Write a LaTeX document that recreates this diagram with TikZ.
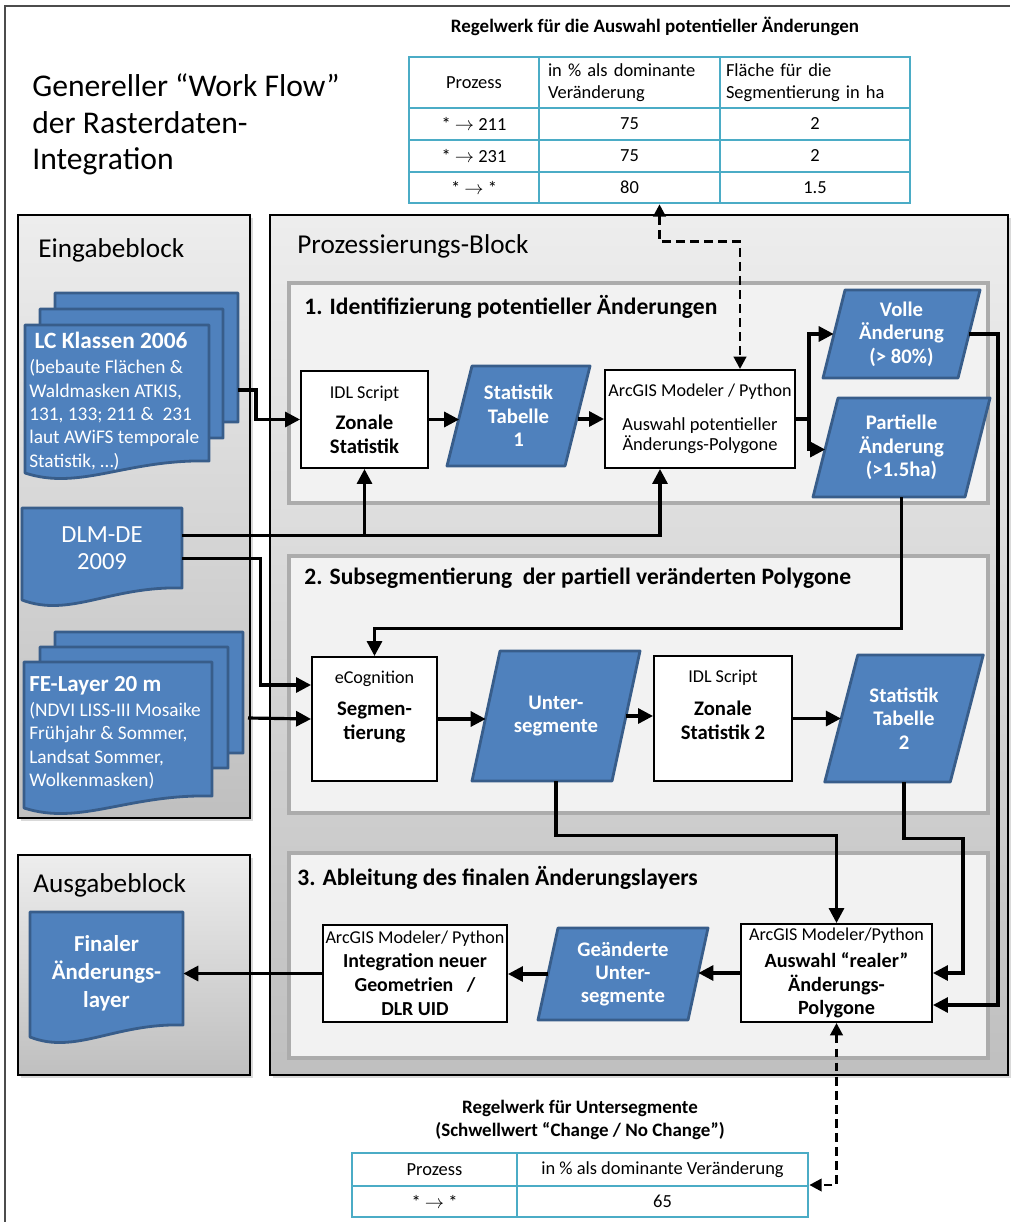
\documentclass[tikz,border=0pt]{standalone}
\usepackage{fontspec}
\setmainfont{Carlito}
\usetikzlibrary{arrows.meta,calc,fit,shadows}
\definecolor{docblue}{RGB}{79,129,189}
\definecolor{docline}{RGB}{56,93,138}
\definecolor{tabline}{RGB}{75,172,198}
\definecolor{subfill}{RGB}{242,242,242}
\definecolor{subline}{RGB}{172,172,172}
\newcommand{\px}{0.02cm}
\newcommand{\tool}[1]{{\mdseries\fontsize{10.3}{12}\selectfont #1}}
%% page with wavy foot: x1, y1 (top left), x2 (right), y2 (left foot)
\newcommand{\docpage}[4]{%
  \filldraw[pagefill] (#1,#2) -- (#3,#2) -- (#3,{#4-12})
    .. controls ({#1+0.55*(#3-#1)},{#4-14}) and ({#1+0.3*(#3-#1)},{#4+18}) .. (#1,#4) -- cycle;}
%% data parallelogram: centre x, centre y, mid width, height, slant
\newcommand{\datashape}[5]{%
  \filldraw[datafill] ({#1-#3/2+#5},{#2-#4/2}) -- ({#1+#3/2+#5},{#2-#4/2})
    -- ({#1+#3/2-#5},{#2+#4/2}) -- ({#1-#3/2-#5},{#2+#4/2}) -- cycle;}

\begin{document}
\begin{tikzpicture}[
      x=0.02cm, y=-0.02cm,
      frame/.style={draw=black!70, line width=1.3pt},
      block/.style={draw=black, line width=0.8pt, top color=black!7, bottom color=black!25,
                    drop shadow={shadow xshift=1.5pt, shadow yshift=-1.5pt, opacity=0.3}},
      subblock/.style={draw=subline, line width=2.3pt, fill=subfill},
      blocktitle/.style={anchor=west, inner sep=0pt, font=\fontsize{15.5}{18}\selectfont},
      subtitle/.style={anchor=west, inner sep=0pt, font=\bfseries\fontsize{13.4}{16}\selectfont},
      ruletitle/.style={align=center, inner sep=0pt, font=\bfseries\fontsize{10.8}{13}\selectfont},
      tcell/.style={draw=tabline, line width=1.1pt, inner sep=1pt, align=center,
                    font=\fontsize{10.5}{12.3}\selectfont},
      proc/.style={draw=black, line width=1.1pt, fill=white, inner sep=1pt, align=center,
                   font=\fontsize{11.8}{13.6}\selectfont},
      datafill/.style={fill=docblue, draw=docline, line width=1.6pt, line join=round},
      pagefill/.style={fill=docblue, draw=docline, line width=1.6pt, line join=round},
      datatxt/.style={text=white, inner sep=0pt, align=center,
                      font=\bfseries\fontsize{11.8}{13.3}\selectfont},
      pagetxt/.style={text=white, inner sep=0pt, align=left, font=\fontsize{11}{13.3}\selectfont},
      link/.style={line width=1.8pt},
      flow/.style={line width=1.8pt, -{Triangle[length=8.5pt,width=8.5pt]}},
      ruleflow/.style={line width=1.6pt, dash pattern=on 5pt off 3pt,
                       {Triangle[length=7pt,width=7pt]}-{Triangle[length=7pt,width=7pt]}},
    ]
    \useasboundingbox (0,0) rectangle (1010,1222);
    %% outer frame
    \draw[frame] (5,1222) -- (5,6) -- (1010,6);
    %% headline
    \node[anchor=north west, align=left, inner sep=0pt, font=\fontsize{18}{21}\selectfont]
      (headline) at (32,73) {Genereller “Work Flow”\\der Rasterdaten-\\Integration};

    %% the three blocks
    \draw[block] (18,215) rectangle (250,818);
    \draw[block] (270,215) rectangle (1008,1075);
    \draw[block] (18,855) rectangle (250,1075);
    \node[blocktitle] (inhead) at (38,250) {Eingabeblock};
    \node[blocktitle] (prochead) at (297,246) {Prozessierungs-Block};
    \node[blocktitle] (outhead) at (33,885) {Ausgabeblock};

    %% processing steps
    \draw[subblock] (289,283) rectangle (988,503);
    \draw[subblock] (289,556) rectangle (988,813);
    \draw[subblock] (289,853) rectangle (988,1058);
    \node[subtitle] (step1) at (304,307) {1. Identifizierung potentieller Änderungen};
    \node[subtitle] (step2) at (304,578) {2. Subsegmentierung\ \ der partiell veränderten Polygone};
    \node[subtitle] (step3) at (297,878) {3. Ableitung des finalen Änderungslayers};

    %% rule table 1
    \node[ruletitle] (rule1) at (655,26) {Regelwerk für die Auswahl potentieller Änderungen};
    \node[tcell, minimum width=130*\px, minimum height=51*\px] (t1-0-0) at (474,82.5) {Prozess};
    \node[tcell, minimum width=181*\px, minimum height=51*\px, align=left, text width=163*\px]
      (t1-0-1) at (629.5,82.5) {in \% als dominante\\Veränderung};
    \node[tcell, minimum width=190*\px, minimum height=51*\px, align=left, text width=178*\px]
      (t1-0-2) at (815,82.5) {Fläche für die\\Segmentierung in ha};
    \foreach \r/\y/\h/\a/\b/\c in {1/124/32/211/75/2, 2/156/32/231/75/2, 3/187.5/31/*/80/1.5}{
      \node[tcell, minimum width=130*\px, minimum height=\h*\px] (t1-\r-0) at (474,\y) {* $\rightarrow$ \a};
      \node[tcell, minimum width=181*\px, minimum height=\h*\px] (t1-\r-1) at (629.5,\y) {\b};
      \node[tcell, minimum width=190*\px, minimum height=\h*\px] (t1-\r-2) at (815,\y) {\c};
    }
    \node[fit=(t1-0-0)(t1-3-2), inner sep=0pt] (tab1) {};

    %% rule table 2
    \node[ruletitle] (rule2) at (580,1120) {Regelwerk für Untersegmente\\(Schwellwert “Change / No Change”)};
    \node[tcell, minimum width=165*\px, minimum height=33*\px] (t2-0-0) at (434.5,1169.5) {Prozess};
    \node[tcell, minimum width=291*\px, minimum height=33*\px] (t2-0-1) at (662.5,1169.5)
      {in \% als dominante Veränderung};
    \node[tcell, minimum width=165*\px, minimum height=31*\px] (t2-1-0) at (434.5,1201.5) {* $\rightarrow$ *};
    \node[tcell, minimum width=291*\px, minimum height=31*\px] (t2-1-1) at (662.5,1201.5) {65};
    \node[fit=(t2-0-0)(t2-1-1), inner sep=0pt] (tab2) {};

    %% input pages
    \docpage{55}{293}{238}{434}
    \docpage{40}{309}{223}{450}
    \docpage{25}{325}{209}{473}
    \node[pagetxt, anchor=north west] (lctext) at (29,332)
      {\hspace*{3pt}{\bfseries\fontsize{13.3}{14}\selectfont LC Klassen 2006}\\[1pt]
       (bebaute Flächen \&\\Waldmasken ATKIS,\\131, 133; 211 \&\ \ 231\\laut AWiFS temporale\\Statistik, …)};
    \coordinate (lcout) at (238,390);
    \docpage{22}{508}{182}{600}
    \node[text=white, align=center, inner sep=0pt, minimum width=160*\px,
          font=\fontsize{14}{15.3}\selectfont] (dlm) at (102,548.5) {DLM-DE\\2009};
    \docpage{55}{632}{243}{765}
    \docpage{40}{647}{228}{780}
    \docpage{24}{662}{212}{808}
    \node[pagetxt, anchor=north west] (fetext) at (29,676)
      {{\bfseries\fontsize{13.1}{14}\selectfont FE-Layer 20 m}\\[1pt]
       (NDVI LISS-III Mosaike\\Frühjahr \& Sommer,\\Landsat Sommer,\\Wolkenmasken)};
    \coordinate (feout) at (248,718);

    %% output page
    \docpage{30}{912}{183}{1037}
    \node[text=white, align=center, inner sep=0pt, minimum width=153*\px,
          font=\bfseries\fontsize{13}{15.9}\selectfont] (final) at (106.5,973)
      {Finaler\\Änderungs-\\layer};

    %% step 1
    \node[proc, minimum width=127*\px, minimum height=97*\px] (zonal1) at (364.5,419.5)
      {\tool{IDL Script}\\[4pt]\textbf{Zonale}\\\textbf{Statistik}};
    \datashape{518.5}{416}{118}{100}{12.5}
    \node[datatxt, minimum width=118*\px, minimum height=100*\px] (stat1) at (518.5,416)
      {Statistik\\Tabelle\\1};
    \node[proc, minimum width=190*\px, minimum height=98*\px, font=\fontsize{10.5}{11.5}\selectfont]
      (arcsel) at (700,419) {\tool{ArcGIS Modeler / Python}\\[8pt]Auswahl potentieller\\Änderungs-Polygone};
    \datashape{901.5}{334}{135}{88}{11}
    \node[datatxt, minimum width=135*\px, minimum height=88*\px] (volle) at (901.5,334)
      {Volle\\Änderung\\(> 80\%)};
    \datashape{901.5}{447.5}{152}{99}{12.5}
    \node[datatxt, minimum width=152*\px, minimum height=99*\px] (partiell) at (901.5,447.5)
      {Partielle\\Änderung\\(>1.5ha)};

    %% step 2
    \node[proc, minimum width=125*\px, minimum height=124*\px] (segm) at (374.5,719)
      {\tool{eCognition}\\[5pt]\textbf{Segmen-}\\\textbf{tierung}\\[2pt]~};
    \datashape{556}{716}{140}{130}{14}
    \node[datatxt, minimum width=140*\px, minimum height=130*\px] (untseg) at (556,716)
      {Unter-\\segmente};
    \node[proc, minimum width=138*\px, minimum height=125*\px] (zonal2) at (723,718.5)
      {\tool{IDL Script}\\[5pt]\textbf{Zonale}\\\textbf{Statistik 2}\\[2pt]~};
    \datashape{904}{718.5}{125.5}{127}{16.5}
    \node[datatxt, minimum width=125.5*\px, minimum height=127*\px] (stat2) at (904,718.5)
      {Statistik\\Tabelle\\2};

    %% step 3
    \node[proc, minimum width=191*\px, minimum height=98*\px, font=\bfseries\fontsize{11.5}{13.3}\selectfont]
      (realsel) at (836.5,973) {\tool{ArcGIS Modeler/Python}\\[2pt]Auswahl “realer”\\Änderungs-\\Polygone};
    \datashape{623}{974}{150}{92}{10}
    \node[datatxt, minimum width=150*\px, minimum height=92*\px] (geaend) at (623,974)
      {Geänderte\\Unter-\\segmente};
    \node[proc, minimum width=184*\px, minimum height=97*\px, font=\bfseries\fontsize{11.3}{13.6}\selectfont]
      (integ) at (415,973.5) {\tool{ArcGIS Modeler/ Python}\\Integration neuer\\Geometrien\ \ \ /\\DLR UID};

    %% connectors
    \coordinate (dlmbus) at ($(dlm.east)+(0,-13)$);
    \coordinate (split) at ($(arcsel.east)+(13,0)$);
    \draw[flow] (lcout) -- ++(18,0) |- (zonal1.west);
    \draw[flow] (dlmbus) -| ($(arcsel.south)+(-40,0)$);
    \draw[flow] (zonal1.south |- dlmbus) -- (zonal1.south);
    \draw[flow] ($(dlm.east)+(0,10)$) -- ++(78,0) |- ($(segm.west)+(0,-34)$);
    \draw[flow] (feout) -- (segm.west);
    \draw[flow] (zonal1.east) -- (zonal1.east -| stat1.west);
    \draw[flow] (arcsel.west -| stat1.east) -- (arcsel.west);
    \draw[link] (arcsel.east) -- (split);
    \draw[flow] (split) |- (volle.west);
    \draw[flow] (split) |- ($(partiell.west)+(0,2)$);
    \draw[flow] (partiell.south) -- ++(0,131) -| (segm.north);
    \draw[flow] (segm.east) -- (segm.east -| untseg.west);
    \draw[flow] (untseg.east) -- (untseg.east -| zonal2.west);
    \draw[flow] (zonal2.east) -- (zonal2.east -| stat2.west);
    \draw[flow] (untseg.south) -- ++(0,54) -| (realsel.north);
    \draw[flow] (stat2.south) -- ++(0,56) -| ($(realsel.east)+(30,0)$) -- (realsel.east);
    \draw[flow] (volle.east) -| ($(realsel.east)+(65,32)$) -- ($(realsel.east)+(0,32)$);
    \draw[flow] (realsel.west) -- (realsel.west -| geaend.east);
    \draw[flow] (geaend.west) -- (geaend.west -| integ.east);
    \draw[flow] (integ.west) -- (integ.west -| final.east);
    %% rule links
    \draw[ruleflow] (tab1.south) -- ++(0,37) -| ($(arcsel.north)+(40,0)$);
    \draw[ruleflow] (realsel.south) |- (tab2.east);
\end{tikzpicture}
\end{document}
